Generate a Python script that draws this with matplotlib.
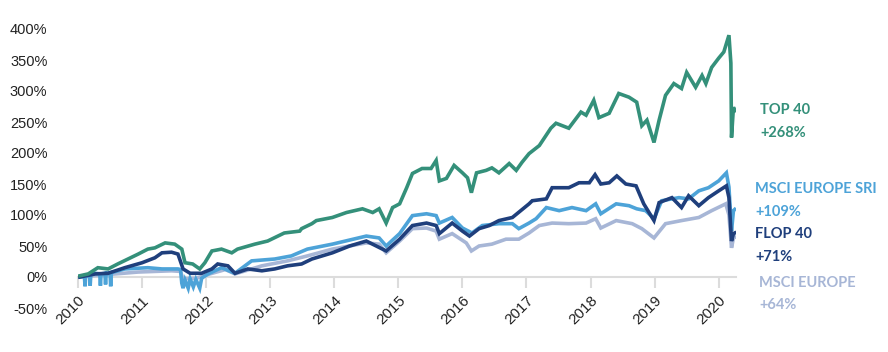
import matplotlib
matplotlib.use("Agg")
import matplotlib.pyplot as plt
from matplotlib.ticker import FuncFormatter

# ---- data (decimal years, cumulative performance in %) ----
top40_t = [2010.03, 2010.16, 2010.31, 2010.47, 2010.62, 2010.78, 2010.94, 2011.09, 2011.2, 2011.36,
           2011.51, 2011.62, 2011.67, 2011.79, 2011.9, 2011.98, 2012.09, 2012.24, 2012.4, 2012.49,
           2012.76, 2012.96, 2013.22, 2013.46, 2013.49, 2013.65, 2013.72, 2013.97, 2014.19, 2014.44,
           2014.6, 2014.7, 2014.81, 2014.91, 2015.02, 2015.13, 2015.22, 2015.37, 2015.51, 2015.59,
           2015.64, 2015.75, 2015.87, 2016.0, 2016.08, 2016.14, 2016.22, 2016.37, 2016.46, 2016.57,
           2016.73, 2016.84, 2016.93, 2017.04, 2017.2, 2017.38, 2017.46, 2017.66, 2017.85, 2017.93,
           2018.05, 2018.13, 2018.29, 2018.44, 2018.6, 2018.72, 2018.8, 2018.88, 2018.99, 2019.07,
           2019.17, 2019.3, 2019.42, 2019.5, 2019.64, 2019.74, 2019.8, 2019.89, 2020.0, 2020.08,
           2020.16, 2020.19, 2020.2, 2020.23, 2020.25]
top40_v = [2, 5, 15, 13, 21, 29, 37, 45, 47, 55,
           53, 45, 23, 21, 13, 23, 42, 45, 39, 45,
           53, 58, 71, 74, 78, 86, 91, 96, 104, 110,
           104, 110, 87, 112, 118, 144, 167, 175, 175, 188,
           155, 159, 180, 168, 160, 136, 168, 172, 176, 168,
           183, 172, 185, 199, 212, 240, 248, 240, 266, 261,
           285, 257, 264, 296, 290, 282, 244, 253, 217, 253,
           293, 312, 304, 330, 306, 325, 312, 338, 353, 363,
           390, 345, 225, 274, 268]

flop40_t = [2010.03, 2010.27, 2010.47, 2010.73, 2011.0, 2011.2, 2011.31, 2011.46, 2011.56, 2011.64,
            2011.75, 2011.93, 2012.09, 2012.18, 2012.34, 2012.45, 2012.65, 2012.87, 2013.07, 2013.27,
            2013.49, 2013.65, 2013.97, 2014.24, 2014.5, 2014.81, 2015.02, 2015.22, 2015.44, 2015.59,
            2015.64, 2015.84, 2016.0, 2016.11, 2016.26, 2016.42, 2016.57, 2016.78, 2017.04, 2017.09,
            2017.31, 2017.4, 2017.66, 2017.82, 2017.98, 2018.07, 2018.16, 2018.29, 2018.41, 2018.55,
            2018.71, 2018.83, 2018.99, 2019.07, 2019.27, 2019.42, 2019.53, 2019.69, 2019.84, 2020.0,
            2020.12, 2020.16, 2020.2, 2020.23, 2020.25]
flop40_v = [0, 5, 6, 15, 23, 31, 39, 40, 37, 13,
            6, 6, 13, 21, 18, 6, 13, 10, 13, 18,
            21, 29, 39, 50, 58, 42, 61, 83, 87, 83,
            70, 87, 74, 66, 78, 83, 91, 96, 118, 123,
            126, 144, 144, 152, 152, 165, 150, 152, 163, 150,
            147, 118, 91, 120, 128, 112, 131, 115, 128, 139,
            147, 128, 58, 70, 71]

sri_t = [2010.03, 2010.1, 2010.11, 2010.12, 2010.18, 2010.19, 2010.2, 2010.27, 2010.34, 2010.35,
         2010.36, 2010.42, 2010.43, 2010.44, 2010.5, 2010.51, 2010.52, 2010.73, 2011.09, 2011.31,
         2011.56, 2011.6, 2011.62, 2011.64, 2011.67, 2011.72, 2011.75, 2011.8, 2011.84, 2011.9,
         2011.93, 2012.03, 2012.24, 2012.45, 2012.71, 2013.07, 2013.33, 2013.58, 2013.97, 2014.5,
         2014.7, 2014.81, 2015.02, 2015.22, 2015.44, 2015.59, 2015.64, 2015.84, 2016.0, 2016.15,
         2016.31, 2016.57, 2016.78, 2016.88, 2017.04, 2017.15, 2017.31, 2017.51, 2017.71, 2017.93,
         2018.08, 2018.16, 2018.4, 2018.6, 2018.72, 2018.86, 2018.99, 2019.11, 2019.38, 2019.53,
         2019.69, 2019.84, 2020.0, 2020.12, 2020.16, 2020.2, 2020.23, 2020.25]
sri_v = [0, 1, -15, 2, 3, -14, 4, 6, 5, -14,
         5, 6, -12, 6, 7, -15, 7, 13, 15, 13,
         13, 12, -10, -18, -5, -18, -3, -16, -4, -18,
         -2, 5, 15, 6, 26, 29, 34, 45, 53, 66,
         63, 50, 70, 99, 102, 99, 87, 96, 79, 71,
         83, 86, 86, 78, 87, 94, 112, 107, 112, 107,
         118, 102, 118, 115, 110, 107, 94, 123, 128, 126,
         139, 144, 155, 168, 145, 74, 107, 109]

msci_t = [2010.03, 2010.47, 2010.94, 2011.46, 2011.6, 2011.64, 2011.85, 2012.06, 2012.3, 2012.45,
          2012.87, 2013.27, 2013.58, 2013.97, 2014.5, 2014.7, 2014.81, 2015.02, 2015.22, 2015.44,
          2015.59, 2015.64, 2015.84, 2016.06, 2016.14, 2016.26, 2016.46, 2016.68, 2016.88, 2017.04,
          2017.2, 2017.4, 2017.66, 2017.93, 2018.08, 2018.16, 2018.4, 2018.65, 2018.8, 2018.99,
          2019.17, 2019.42, 2019.69, 2019.89, 2020.11, 2020.16, 2020.2, 2020.23, 2020.25]
msci_v = [0, 4, 8, 10, 9, -3, -2, 5, 12, 5,
          18, 26, 34, 45, 55, 53, 39, 58, 78, 79,
          74, 61, 70, 55, 42, 50, 53, 61, 61, 71,
          83, 87, 86, 87, 94, 79, 91, 86, 78, 63,
          86, 91, 96, 107, 118, 100, 47, 63, 64]

years = list(range(2010, 2021))
year_labels = [str(y) for y in years]
y_ticks = [-50, 0, 50, 100, 150, 200, 250, 300, 350, 400]

series_names = ["TOP 40", "MSCI EUROPE SRI", "FLOP 40", "MSCI EUROPE"]
series_final = ["+268%", "+109%", "+71%", "+64%"]

c_top = "#34907a"
c_flop = "#1f3f7c"
c_sri = "#4da3d8"
c_msci = "#a7b6d6"

W, H = 888, 352
fig = plt.figure(figsize=(W / 100, H / 100), dpi=100)
ax = fig.add_axes([78 / W, 44 / H, 658 / W, 279 / H])

lw = 2.6
ax.plot(msci_t, msci_v, color=c_msci, lw=lw, solid_joinstyle="miter")
ax.plot(sri_t, sri_v, color=c_sri, lw=lw, solid_joinstyle="miter")
ax.plot(flop40_t, flop40_v, color=c_flop, lw=lw, solid_joinstyle="miter")
ax.plot(top40_t, top40_v, color=c_top, lw=lw, solid_joinstyle="miter")

ax.set_xlim(2010.0, 2020.27)
ax.set_ylim(-50, 400)

for s in ["top", "right", "left"]:
    ax.spines[s].set_visible(False)
ax.spines["bottom"].set_position(("data", 0))
ax.spines["bottom"].set_color("#dcdcdc")
ax.spines["bottom"].set_linewidth(1.5)
ax.spines["bottom"].set_zorder(0)

ax.set_xticks(years)
ax.set_xticklabels(year_labels, rotation=45, ha="right", rotation_mode="anchor",
                   fontsize=11, color="#222222", family="Liberation Sans")
ax.tick_params(axis="x", direction="out", length=8, width=1.5, color="#dcdcdc", pad=4)

ax.set_yticks(y_ticks)
ax.yaxis.set_major_formatter(FuncFormatter(lambda v, p: f"{int(v)}%"))
ax.tick_params(axis="y", length=0, pad=22, labelsize=10.5, labelcolor="#222222")
for lab in ax.get_yticklabels():
    lab.set_family("Liberation Sans")

label_font = dict(fontsize=10.5, fontweight="bold", family="Lato")
fig.text(760 / W, 1 - 110 / H, series_names[0], color=c_top, va="center", **label_font)
fig.text(760 / W, 1 - 133 / H, series_final[0], color=c_top, va="center", **label_font)
fig.text(755 / W, 1 - 189 / H, series_names[1], color=c_sri, va="center", **label_font)
fig.text(755 / W, 1 - 212 / H, series_final[1], color=c_sri, va="center", **label_font)
fig.text(755 / W, 1 - 234 / H, series_names[2], color=c_flop, va="center", **label_font)
fig.text(755 / W, 1 - 257 / H, series_final[2], color=c_flop, va="center", **label_font)
fig.text(759 / W, 1 - 283 / H, series_names[3], color=c_msci, va="center", **label_font)
fig.text(759 / W, 1 - 305 / H, series_final[3], color=c_msci, va="center", **label_font)

fig.savefig("out.png", dpi=100)
